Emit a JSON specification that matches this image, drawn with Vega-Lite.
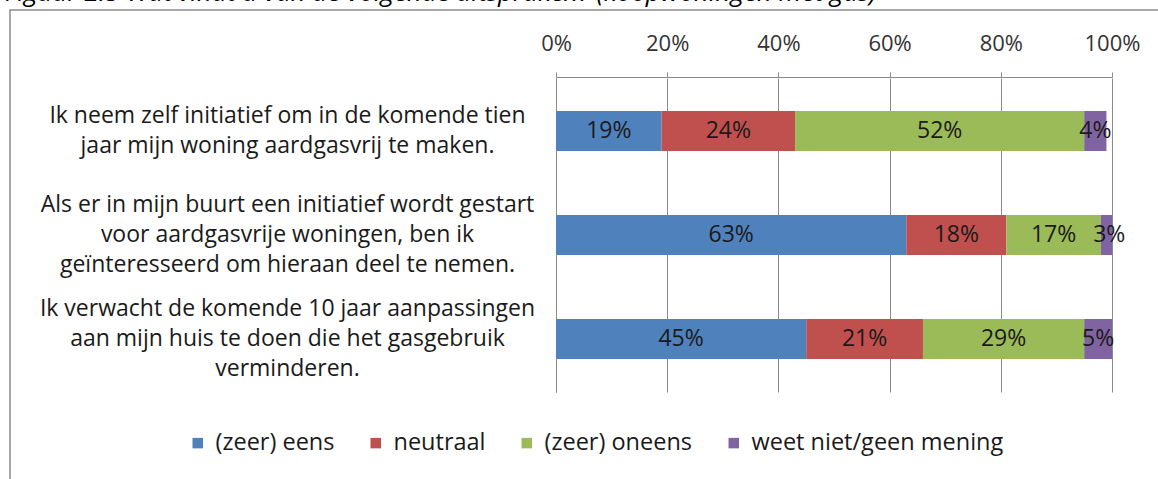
{
  "$schema": "https://vega.github.io/schema/vega-lite/v6.json",
  "autosize": "none",
  "width": 1160,
  "height": 480,
  "padding": {"left": 10, "top": 10, "right": 0, "bottom": 0},
  "background": "white",
  "title": {
    "text": "Figuur 2.5 Wat vindt u van de volgende uitspraken? (koopwoningen met gas)",
    "anchor": "start",
    "frame": "group",
    "font": "Open Sans",
    "fontStyle": "italic",
    "fontWeight": "normal",
    "fontSize": 26,
    "color": "#000000",
    "baseline": "alphabetic",
    "offset": 0,
    "dy": 17,
    "dx": -5
  },
  "config": {
    "view": {"stroke": "#8a8a8a", "strokeWidth": 1.5},
    "font": "Open Sans"
  },
  "data": {
    "values": [
      {"q": "Ik neem zelf initiatief om in de komende tien|jaar mijn woning aardgasvrij te maken.", "cat": "(zeer) eens", "order": 1, "value": 0.19},
      {"q": "Ik neem zelf initiatief om in de komende tien|jaar mijn woning aardgasvrij te maken.", "cat": "neutraal", "order": 2, "value": 0.24},
      {"q": "Ik neem zelf initiatief om in de komende tien|jaar mijn woning aardgasvrij te maken.", "cat": "(zeer) oneens", "order": 3, "value": 0.52},
      {"q": "Ik neem zelf initiatief om in de komende tien|jaar mijn woning aardgasvrij te maken.", "cat": "weet niet/geen mening", "order": 4, "value": 0.04},
      {"q": "Als er in mijn buurt een initiatief wordt gestart|voor aardgasvrije woningen, ben ik|geïnteresseerd om hieraan deel te nemen.", "cat": "(zeer) eens", "order": 1, "value": 0.63},
      {"q": "Als er in mijn buurt een initiatief wordt gestart|voor aardgasvrije woningen, ben ik|geïnteresseerd om hieraan deel te nemen.", "cat": "neutraal", "order": 2, "value": 0.18},
      {"q": "Als er in mijn buurt een initiatief wordt gestart|voor aardgasvrije woningen, ben ik|geïnteresseerd om hieraan deel te nemen.", "cat": "(zeer) oneens", "order": 3, "value": 0.17},
      {"q": "Als er in mijn buurt een initiatief wordt gestart|voor aardgasvrije woningen, ben ik|geïnteresseerd om hieraan deel te nemen.", "cat": "weet niet/geen mening", "order": 4, "value": 0.03},
      {"q": "Ik verwacht de komende 10 jaar aanpassingen|aan mijn huis te doen die het gasgebruik|verminderen.", "cat": "(zeer) eens", "order": 1, "value": 0.45},
      {"q": "Ik verwacht de komende 10 jaar aanpassingen|aan mijn huis te doen die het gasgebruik|verminderen.", "cat": "neutraal", "order": 2, "value": 0.21},
      {"q": "Ik verwacht de komende 10 jaar aanpassingen|aan mijn huis te doen die het gasgebruik|verminderen.", "cat": "(zeer) oneens", "order": 3, "value": 0.29},
      {"q": "Ik verwacht de komende 10 jaar aanpassingen|aan mijn huis te doen die het gasgebruik|verminderen.", "cat": "weet niet/geen mening", "order": 4, "value": 0.05}
    ]
  },
  "transform": [
    {"stack": "value", "groupby": ["q"], "sort": [{"field": "order", "order": "ascending"}], "as": ["v0", "v1"]}
  ],
  "layer": [
    {
      "mark": {"type": "bar"},
      "encoding": {
        "y": {
          "field": "q",
          "type": "nominal",
          "sort": [
            "Ik neem zelf initiatief om in de komende tien|jaar mijn woning aardgasvrij te maken.",
            "Als er in mijn buurt een initiatief wordt gestart|voor aardgasvrije woningen, ben ik|geïnteresseerd om hieraan deel te nemen.",
            "Ik verwacht de komende 10 jaar aanpassingen|aan mijn huis te doen die het gasgebruik|verminderen."
          ],
          "scale": {"range": [68, 382], "paddingInner": 0.615, "paddingOuter": 0.317},
          "axis": {
            "orient": "left",
            "offset": -546,
            "title": null,
            "labelExpr": "split(datum.label, '|')",
            "labelAlign": "center",
            "labelBaseline": "middle",
            "labelOffset": {"expr": "-(length(split(datum.label, '|')) - 1) * 15"},
            "labelPadding": 269,
            "ticks": false,
            "tickSize": 0,
            "labelFont": "Open Sans",
            "labelFontSize": 23,
            "labelLineHeight": 30,
            "labelColor": "#1a1a1a",
            "labelLimit": 0,
            "domainColor": "#8a8a8a",
            "domainWidth": 1,
            "grid": false
          }
        },
        "x": {
          "field": "v0",
          "type": "quantitative",
          "scale": {"domain": [0, 1], "range": [546, 1102], "clamp": true, "nice": false},
          "axis": {
            "orient": "top",
            "offset": -67,
            "values": [0, 0.2, 0.4, 0.6, 0.8, 1],
            "format": ".0%",
            "title": null,
            "labelFlush": false,
            "labelFont": "Open Sans",
            "labelFontSize": 22,
            "labelColor": "#333333",
            "labelPadding": 17,
            "tickSize": 5,
            "tickColor": "#8a8a8a",
            "domainColor": "#8a8a8a",
            "grid": true,
            "gridColor": "#8a8a8a",
            "gridOpacity": 1
          }
        },
        "x2": {"field": "v1"},
        "color": {
          "field": "cat",
          "type": "nominal",
          "scale": {
            "domain": ["(zeer) eens", "neutraal", "(zeer) oneens", "weet niet/geen mening"],
            "range": ["#4F81BD", "#C0504D", "#9BBB59", "#8064A2"]
          },
          "legend": {
            "orient": "none",
            "legendX": 176,
            "legendY": 421,
            "direction": "horizontal",
            "title": null,
            "symbolType": "square",
            "symbolSize": 110,
            "symbolStrokeWidth": 0,
            "labelFont": "Open Sans",
            "labelFontSize": 23.5,
            "labelColor": "#1a1a1a",
            "labelLimit": 400,
            "columnPadding": 29,
            "labelOffset": 6
          }
        }
      }
    },
    {
      "transform": [{"fold": ["v0", "v1"], "as": ["k", "pos"]}],
      "mark": {"type": "text", "fontSize": 23, "font": "Open Sans", "color": "#1a1a1a", "baseline": "middle"},
      "encoding": {
        "y": {
          "field": "q",
          "type": "nominal",
          "sort": [
            "Ik neem zelf initiatief om in de komende tien|jaar mijn woning aardgasvrij te maken.",
            "Als er in mijn buurt een initiatief wordt gestart|voor aardgasvrije woningen, ben ik|geïnteresseerd om hieraan deel te nemen.",
            "Ik verwacht de komende 10 jaar aanpassingen|aan mijn huis te doen die het gasgebruik|verminderen."
          ]
        },
        "x": {"aggregate": "mean", "field": "pos", "type": "quantitative"},
        "text": {"field": "value", "type": "quantitative", "format": ".0%"},
        "detail": {"field": "cat", "type": "nominal"}
      }
    }
  ]
}
